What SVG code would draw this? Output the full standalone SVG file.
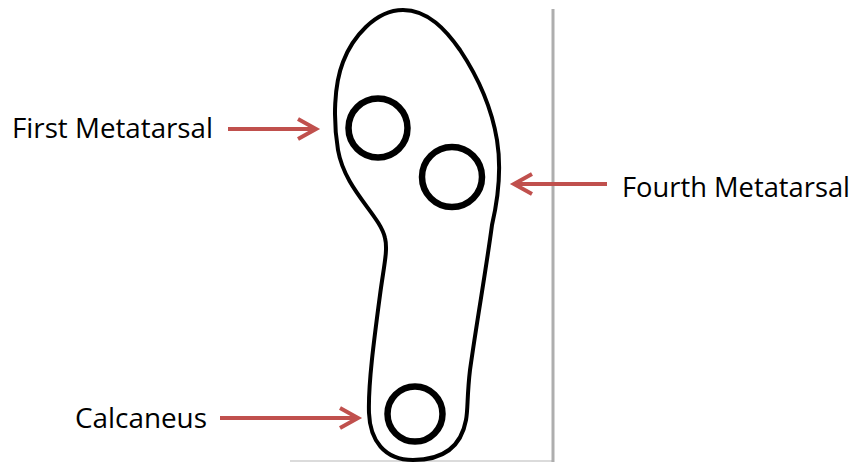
<svg xmlns="http://www.w3.org/2000/svg" width="858" height="469" viewBox="0 0 858 469">
  <style>
    .label { font-family: "Open Sans", "Liberation Sans", sans-serif; font-size: 27px; fill: #000; }
    .outline { fill: none; stroke: #000; stroke-width: 4; stroke-linejoin: round; }
    .pad { fill: none; stroke: #000; stroke-width: 6.5; }
    .arrow { fill: none; stroke: #C0504D; stroke-width: 4; stroke-linecap: butt; stroke-linejoin: miter; }
    .frame { stroke: #9a9a9a; stroke-width: 3; opacity: 0.8; }
    .frame-bottom { stroke: #9a9a9a; stroke-width: 2; opacity: 0.35; }
  </style>

  <rect width="858" height="469" fill="#fff"/>

  <!-- picture frame shadow -->
  <g id="frame">
    <line class="frame" x1="553" y1="9" x2="553" y2="462"/>
    <line class="frame-bottom" x1="290" y1="461" x2="552" y2="461"/>
  </g>

  <!-- insole outline -->
  <g id="insole">
    <path class="outline" d="M403,10
      C428,10 446,30 460,50
      C480,80 492,110 497,140
      C501,165 499,195 492,225
      C486,270 477,320 470,370
      C467,395 468,410 466,420
      C462,442 448,460 413,460
      C384,460 370,440 369,413
      C368,385 374,340 380,295
      C384,265 388,250 385,238
      C380,215 345,190 338,150
      C333,120 334,85 343,62
      C352,38 375,10 403,10 Z"/>
  </g>

  <g id="first-metatarsal">
    <circle class="pad" cx="378" cy="128" r="29.5"/>
  </g>
  <g id="fourth-metatarsal">
    <circle class="pad" cx="452" cy="177" r="30"/>
  </g>
  <g id="calcaneus">
    <circle class="pad" cx="415" cy="414" r="27.5"/>
  </g>

  <g id="label-first">
    <text class="label" x="12" y="138" textLength="201" lengthAdjust="spacingAndGlyphs">First Metatarsal</text>
  </g>
  <g id="label-fourth">
    <text class="label" x="622" y="197" textLength="228" lengthAdjust="spacingAndGlyphs">Fourth Metatarsal</text>
  </g>
  <g id="label-calcaneus">
    <text class="label" x="75" y="428" textLength="132" lengthAdjust="spacingAndGlyphs">Calcaneus</text>
  </g>

  <!-- pointer arrows -->
  <g id="connectors">
    <line class="arrow" x1="228" y1="129" x2="315" y2="129"/>
    <polyline class="arrow" points="298,119 316,129 298,139"/>

    <line class="arrow" x1="607" y1="184" x2="515" y2="184"/>
    <polyline class="arrow" points="532,174 514,184 532,194"/>

    <line class="arrow" x1="220" y1="418" x2="357" y2="418"/>
    <polyline class="arrow" points="340,408 358,418 340,428"/>
  </g>
</svg>
